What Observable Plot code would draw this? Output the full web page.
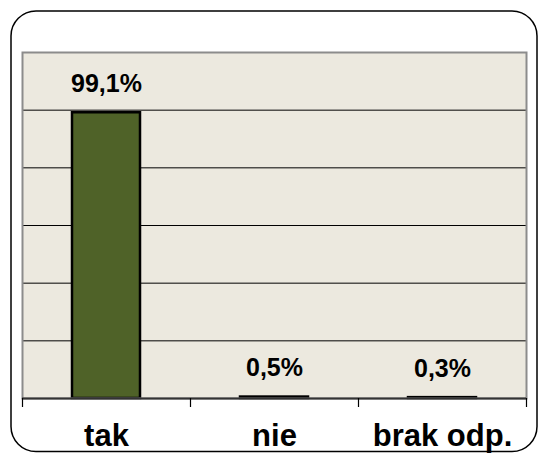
<!DOCTYPE html>
<html>
<head>
<meta charset="utf-8">
<script src="https://cdn.jsdelivr.net/npm/d3@7"></script>
<script src="https://cdn.jsdelivr.net/npm/@observablehq/plot@0.6"></script>
<style>
  html, body { margin: 0; padding: 0; background: #ffffff; }
  #chart svg { display: block; }
</style>
</head>
<body>
<div id="chart"></div>
<script>
const categories = ["tak", "nie", "brak odp."];
const values = [99.1, 0.5, 0.3];
const valueLabels = ["99,1%", "0,5%", "0,3%"];
const gridTicks = [20, 40, 60, 80, 100];
const yMax = 120;

const data = categories.map((c, i) => ({ category: c, value: values[i], label: valueLabels[i] }));

const chart = Plot.plot({
  width: 539,
  height: 453,
  marginLeft: 22,
  marginRight: 13,
  marginTop: 52,
  marginBottom: 55,
  style: { fontFamily: "'Liberation Sans', Arial, sans-serif", background: "#ffffff", overflow: "visible" },
  x: { type: "band", domain: categories, padding: 0, label: null },
  y: { domain: [0, yMax], axis: null },
  marks: [
    Plot.frame({ fill: "#ECE9DF" }),
    Plot.ruleY(gridTicks, { stroke: "#000000", strokeWidth: 1 }),
    Plot.barY(data, {
      x: "category", y: "value",
      fill: "#4F6228", stroke: "#000000", strokeWidth: 2.5,
      insetLeft: 50, insetRight: 50
    }),
    Plot.frame({ stroke: "#8c8c8c", strokeWidth: 2 }),
    Plot.ruleY([0], { stroke: "#333333", strokeWidth: 2 }),
    Plot.ruleX(categories, { x: d => d, dx: -84, insetTop: 346, insetBottom: -9, stroke: "#000000", strokeWidth: 1.2 }),
    Plot.ruleX(categories.slice(-1), { x: d => d, dx: 84, insetTop: 346, insetBottom: -9, stroke: "#000000", strokeWidth: 1.2 }),
    Plot.text(data, {
      x: "category", y: "value", text: "label",
      lineAnchor: "bottom", dy: -21,
      fontSize: 25, fontWeight: "bold", fill: "#000000"
    }),
    Plot.axisX({
      tickSize: 0, tickPadding: 25, fontSize: 31, fontWeight: "bold",
      fill: "#000000", label: null
    }),
    Plot.frame({
      stroke: "#000000", strokeWidth: 1.5, fill: "none", rx: 25,
      insetLeft: -11.5, insetRight: -10.5, insetTop: -41.5, insetBottom: -53
    })
  ]
});

document.getElementById("chart").appendChild(chart);
</script>
</body>
</html>
